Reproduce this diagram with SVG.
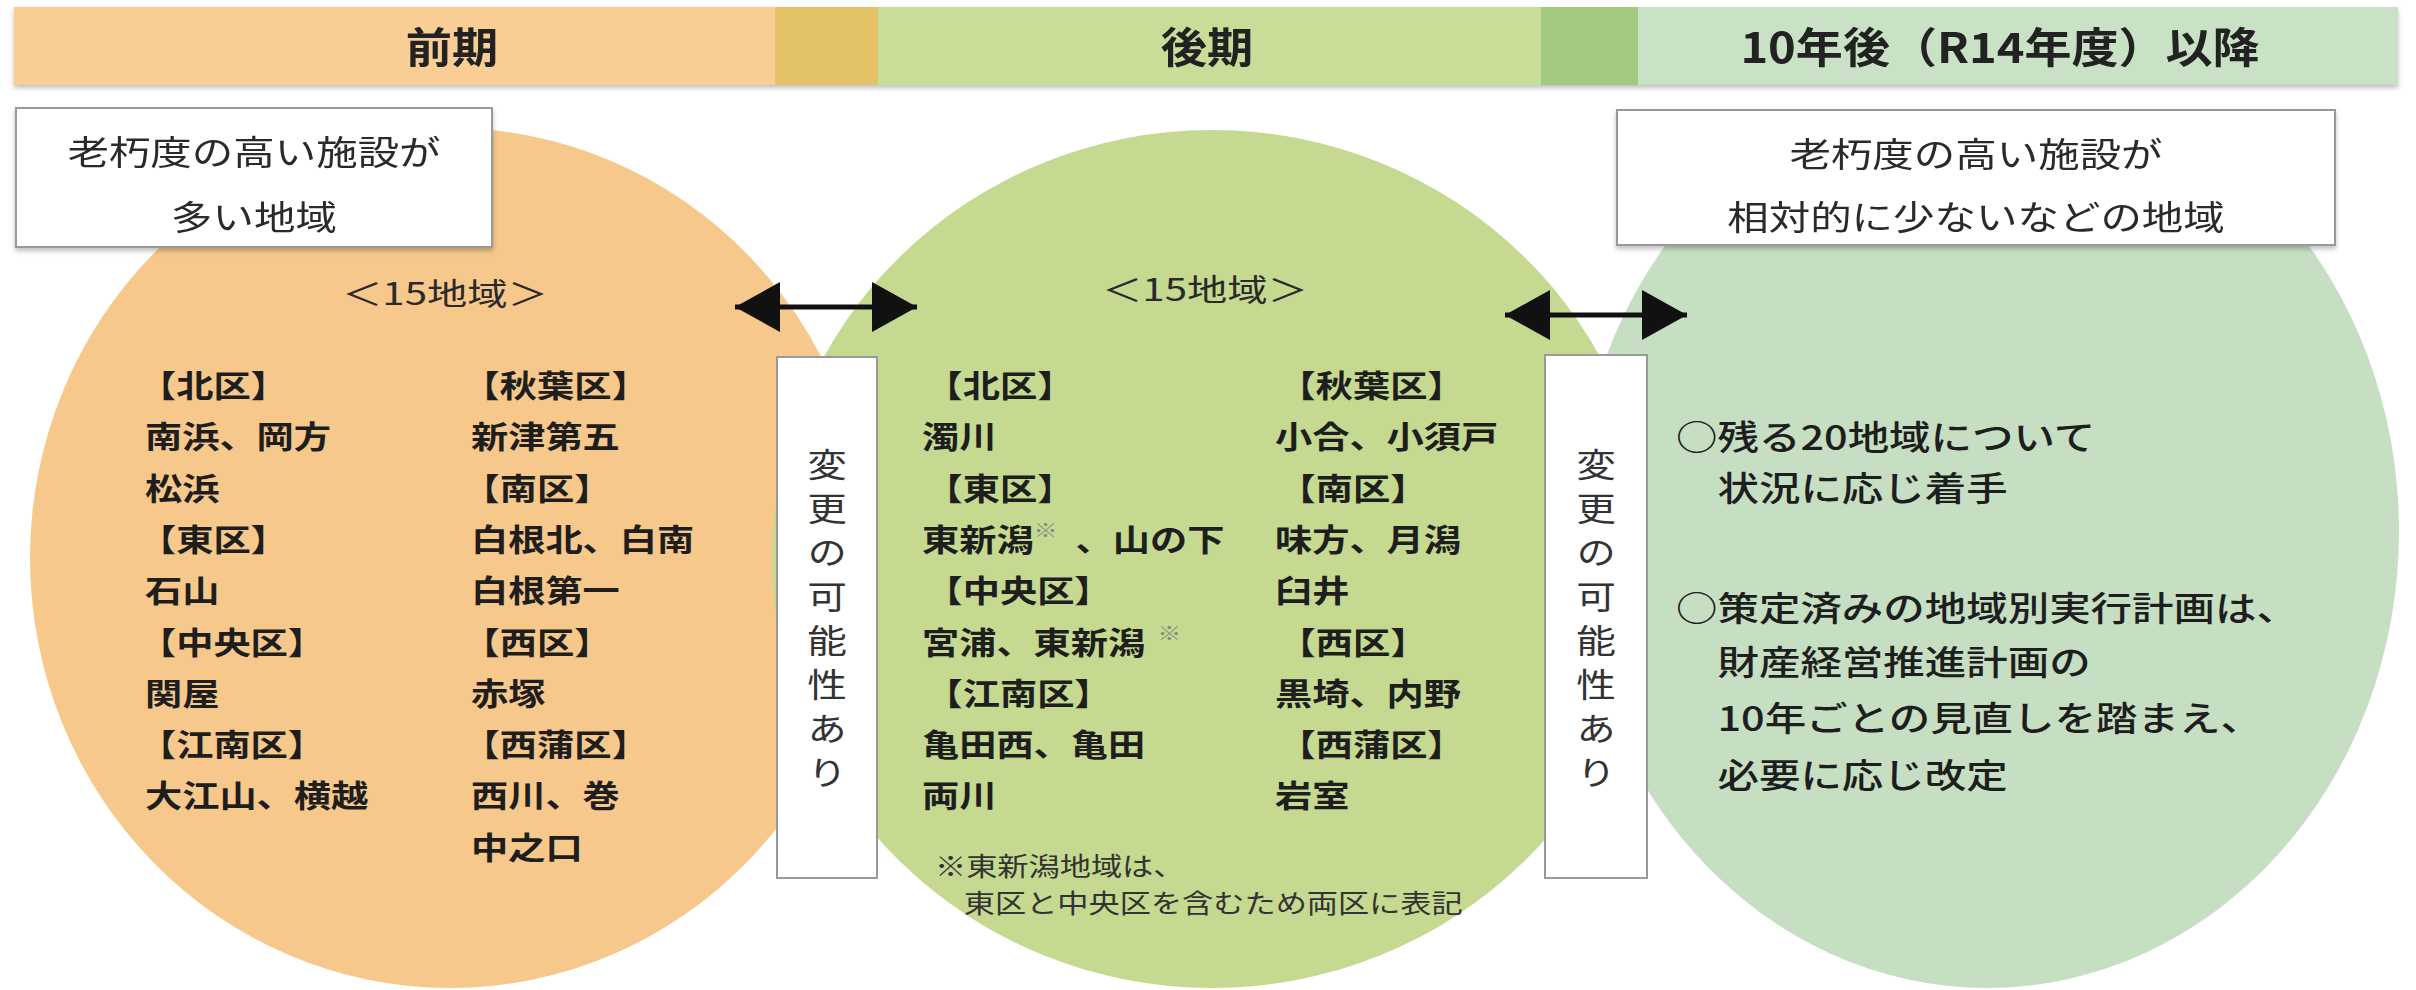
<svg xmlns="http://www.w3.org/2000/svg" width="2416" height="990" viewBox="0 0 2416 990">
<defs>
<filter id="sh" x="-5%" y="-10%" width="110%" height="130%">
<feDropShadow dx="0" dy="3" stdDeviation="2.5" flood-color="#000" flood-opacity="0.25"/>
</filter>
<clipPath id="clipAfter"><rect x="1500" y="112" width="916" height="878"/></clipPath>
<marker id="ah" viewBox="0 0 45 50" refX="45" refY="25" markerWidth="45" markerHeight="50" markerUnits="userSpaceOnUse" orient="auto-start-reverse">
<path d="M0,0 L45,25 L0,50 Z" fill="#111"/>
</marker>
</defs>
<style>
text { font-family: "Noto Sans CJK JP", "Noto Sans", sans-serif; fill: #1e1e1e; }
.hd { font-size: 42px; font-weight: 700; text-anchor: middle; fill: #222; }
.lb { font-size: 34px; font-weight: 400; text-anchor: middle; fill: #2a2a2a; }
.ls { font-size: 31px; font-weight: 700; }
.cnt { font-size: 31px; font-weight: 400; text-anchor: middle; fill: #2a2a2a; }
.bl { font-size: 34px; font-weight: 500; }
.fn { font-size: 26px; font-weight: 400; fill: #333; }
.vt { font-size: 33px; font-weight: 400; writing-mode: vertical-rl; letter-spacing: 11px; fill: #333; }
.box { fill: #fff; stroke: #9a9a9a; stroke-width: 2; }
.conn { stroke: #111; stroke-width: 5; fill: none; marker-start: url(#ah); marker-end: url(#ah); }
.sup { font-size: 20px; fill: #888; font-weight: 400; }
</style>
<rect width="2416" height="990" fill="#fff"/>

<g id="header" filter="url(#sh)">
<rect x="14" y="7" width="761" height="78" fill="#F9CE95"/>
<rect x="775" y="7" width="103" height="78" fill="#E3C267"/>
<rect x="878" y="7" width="663" height="78" fill="#C9DD99"/>
<rect x="1541" y="7" width="97" height="78" fill="#A3C981"/>
<rect x="1638" y="7" width="760" height="78" fill="#C9E2C6"/>
<g transform="translate(452,0) scale(1.1,1)"><text class="hd" x="0" y="63">前期</text></g>
<g transform="translate(1207,0) scale(1.1,1)"><text class="hd" x="0" y="63">後期</text></g>
<g transform="translate(2000,0) scale(1.12,1)"><text class="hd" x="0" y="63">10年後（R14年度）以降</text></g>
</g>

<g id="circle-early">
<ellipse cx="450" cy="558" rx="420" ry="430" fill="#F7C88B"/>
<g transform="translate(445,0) scale(1.3,1)"><text class="cnt" x="0" y="305">＜15地域＞</text></g>
<g transform="translate(145,0) scale(1.2,1)">
<text class="ls" x="-5" y="397">【北区】</text>
<text class="ls" x="0" y="448">南浜、岡方</text>
<text class="ls" x="0" y="500">松浜</text>
<text class="ls" x="-5" y="551">【東区】</text>
<text class="ls" x="0" y="602">石山</text>
<text class="ls" x="-5" y="654">【中央区】</text>
<text class="ls" x="0" y="705">関屋</text>
<text class="ls" x="-5" y="756">【江南区】</text>
<text class="ls" x="0" y="807">大江山、横越</text>
</g>
<g transform="translate(471,0) scale(1.2,1)">
<text class="ls" x="-7" y="397">【秋葉区】</text>
<text class="ls" x="0" y="448">新津第五</text>
<text class="ls" x="-7" y="500">【南区】</text>
<text class="ls" x="0" y="551">白根北、白南</text>
<text class="ls" x="0" y="602">白根第一</text>
<text class="ls" x="-7" y="654">【西区】</text>
<text class="ls" x="0" y="705">赤塚</text>
<text class="ls" x="-7" y="756">【西蒲区】</text>
<text class="ls" x="0" y="807">西川、巻</text>
<text class="ls" x="0" y="859">中之口</text>
</g>
</g>

<g id="circle-late">
<ellipse cx="1212" cy="559" rx="440" ry="429" fill="#C5D990"/>
<g transform="translate(1205,0) scale(1.3,1)"><text class="cnt" x="0" y="301">＜15地域＞</text></g>
<g transform="translate(922,0) scale(1.2,1)">
<text class="ls" x="3" y="397">【北区】</text>
<text class="ls" x="0" y="448">濁川</text>
<text class="ls" x="3" y="500">【東区】</text>
<text class="ls" x="0" y="551">東新潟<tspan class="sup" dy="-13">※</tspan><tspan dx="15" dy="13">、山の下</tspan></text>
<text class="ls" x="3" y="602">【中央区】</text>
<text class="ls" x="0" y="654">宮浦、東新潟<tspan class="sup" dx="10" dy="-13">※</tspan></text>
<text class="ls" x="3" y="705">【江南区】</text>
<text class="ls" x="0" y="756">亀田西、亀田</text>
<text class="ls" x="0" y="807">両川</text>
</g>
<g transform="translate(1275,0) scale(1.2,1)">
<text class="ls" x="3" y="397">【秋葉区】</text>
<text class="ls" x="0" y="448">小合、小須戸</text>
<text class="ls" x="3" y="500">【南区】</text>
<text class="ls" x="0" y="551">味方、月潟</text>
<text class="ls" x="0" y="602">臼井</text>
<text class="ls" x="3" y="654">【西区】</text>
<text class="ls" x="0" y="705">黒埼、内野</text>
<text class="ls" x="3" y="756">【西蒲区】</text>
<text class="ls" x="0" y="807">岩室</text>
</g>
<g transform="translate(935,0) scale(1.2,1)">
<text class="fn" x="0" y="876">※東新潟地域は、</text>
<text class="fn" x="24" y="913">東区と中央区を含むため両区に表記</text>
</g>
</g>

<g id="circle-after">
<ellipse cx="1987" cy="531" rx="412" ry="457" fill="#C6DFC3" clip-path="url(#clipAfter)"/>
<g transform="translate(1676,0) scale(1.22,1)">
<text class="bl" x="0" y="450">○残る20地域について</text>
<text class="bl" x="34" y="501">状況に応じ着手</text>
<text class="bl" x="0" y="621">○策定済みの地域別実行計画は、</text>
<text class="bl" x="34" y="675">財産経営推進計画の</text>
<text class="bl" x="34" y="731">10年ごとの見直しを踏まえ、</text>
<text class="bl" x="34" y="788">必要に応じ改定</text>
</g>
</g>

<g id="label-early" filter="url(#sh)">
<rect class="box" x="16" y="108" width="476" height="139"/>
<g transform="translate(254,0) scale(1.22,1)">
<text class="lb" x="0" y="165">老朽度の高い施設が</text>
<text class="lb" x="0" y="230">多い地域</text>
</g>
</g>

<g id="label-after" filter="url(#sh)">
<rect class="box" x="1617" y="110" width="718" height="135"/>
<g transform="translate(1976,0) scale(1.22,1)">
<text class="lb" x="0" y="167">老朽度の高い施設が</text>
<text class="lb" x="0" y="230">相対的に少ないなどの地域</text>
</g>
</g>

<g id="change-1">
<rect class="box" x="777" y="357" width="100" height="521"/>
<g transform="translate(827,0) scale(1.2,1)"><text class="vt" x="0" y="448">変更の可能性あり</text></g>
</g>

<g id="change-2">
<rect class="box" x="1545" y="355" width="102" height="523"/>
<g transform="translate(1596,0) scale(1.2,1)"><text class="vt" x="0" y="448">変更の可能性あり</text></g>
</g>

<g id="connectors">
<path class="conn" d="M735,307 H917"/>
<path class="conn" d="M1505,315 H1687"/>
</g>
</svg>
